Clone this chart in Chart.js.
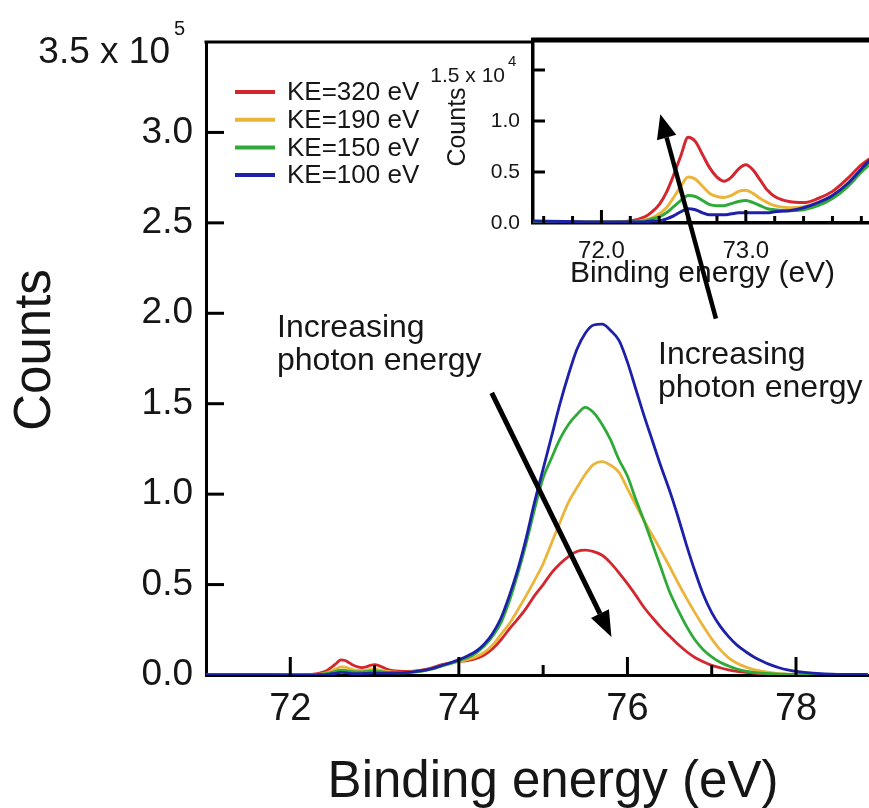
<!DOCTYPE html>
<html lang="en">
<head>
<meta charset="UTF-8">
<title>Counts vs binding energy</title>
<script src="https://cdn.jsdelivr.net/npm/chart.js"></script>
<style>
    body { margin: 0; background: #fff; }
    .wrap { position: relative; width: 869px; height: 808px; overflow: hidden; background: #fff; }
    #mainChart { position: absolute; left: 0; top: 0; }
    #insetChart { position: absolute; left: 400px; top: 0; }
    #arrows { position: absolute; left: 0; top: 0; pointer-events: none; }
</style>
</head>
<body>
<div class="wrap">
    <canvas id="mainChart" width="890" height="808"></canvas>
    <canvas id="insetChart" width="490" height="300"></canvas>
    <canvas id="arrows" width="869" height="808"></canvas>
</div>
<script>
// binding energy (eV)
const xs = [
    71.0, 71.5, 72.0, 72.2,
    72.3, 72.35, 72.4, 72.45, 72.5, 72.55, 72.6, 72.65, 72.7, 72.75, 72.8, 72.85, 72.9, 72.95, 73.0, 73.05, 73.1, 73.15, 73.2,
    73.3, 73.4, 73.5, 73.6, 73.7, 73.8, 73.9,
    74.0, 74.1, 74.2, 74.3, 74.4, 74.5, 74.6, 74.7, 74.8, 74.9,
    75.0, 75.1, 75.2, 75.3, 75.4, 75.5, 75.6, 75.7, 75.8, 75.9,
    76.0, 76.1, 76.2, 76.3, 76.4, 76.5, 76.6, 76.7, 76.8, 76.9,
    77.0, 77.1, 77.2, 77.3, 77.4, 77.5, 77.6, 77.7, 77.8, 77.9,
    78.0, 78.2, 78.5, 78.85
];

// counts, in units of 1e5
const ke320 = [
    0.001, 0.001, 0.001, 0.002,
    0.006, 0.011, 0.018, 0.030, 0.047, 0.066, 0.084, 0.080, 0.067, 0.054, 0.045, 0.041, 0.045, 0.053, 0.057, 0.052, 0.042, 0.032, 0.026,
    0.021, 0.020, 0.024, 0.031, 0.043, 0.057, 0.067,
    0.075, 0.080, 0.090, 0.110, 0.145, 0.195, 0.255, 0.310, 0.370, 0.440,
    0.500, 0.565, 0.615, 0.655, 0.683, 0.690, 0.682, 0.662, 0.620, 0.565,
    0.505, 0.440, 0.372, 0.315, 0.262, 0.215, 0.170, 0.130, 0.097, 0.073,
    0.053, 0.040, 0.028, 0.020, 0.014, 0.010, 0.007, 0.005, 0.004, 0.003,
    0.003, 0.002, 0.001, 0.001
];
const ke190 = [
    0.001, 0.001, 0.001, 0.001,
    0.003, 0.005, 0.009, 0.015, 0.025, 0.036, 0.045, 0.043, 0.036, 0.029, 0.026, 0.025, 0.027, 0.031, 0.032, 0.029, 0.024, 0.020, 0.017,
    0.015, 0.016, 0.020, 0.027, 0.038, 0.052, 0.064,
    0.075, 0.085, 0.100, 0.125, 0.165, 0.225, 0.285, 0.360, 0.440, 0.525,
    0.615, 0.730, 0.845, 0.955, 1.035, 1.110, 1.165, 1.180, 1.160, 1.120,
    1.030, 0.940, 0.850, 0.770, 0.685, 0.600, 0.510, 0.425, 0.345, 0.270,
    0.200, 0.140, 0.095, 0.065, 0.045, 0.030, 0.020, 0.013, 0.008, 0.005,
    0.004, 0.002, 0.001, 0.001
];
const ke150 = [
    0.001, 0.001, 0.001, 0.001,
    0.002, 0.004, 0.006, 0.010, 0.016, 0.022, 0.027, 0.026, 0.022, 0.018, 0.017, 0.017, 0.019, 0.021, 0.022, 0.020, 0.017, 0.014, 0.013,
    0.012, 0.013, 0.017, 0.024, 0.035, 0.050, 0.063,
    0.080, 0.095, 0.120, 0.160, 0.215, 0.290, 0.410, 0.560, 0.730, 0.920,
    1.090, 1.200, 1.305, 1.385, 1.440, 1.480, 1.450, 1.385, 1.300, 1.190,
    1.100, 0.970, 0.850, 0.720, 0.590, 0.460, 0.360, 0.270, 0.195, 0.140,
    0.100, 0.070, 0.050, 0.033, 0.022, 0.015, 0.010, 0.007, 0.005, 0.004,
    0.003, 0.002, 0.001, 0.001
];
const ke100 = [
    0.002, 0.002, 0.001, 0.001,
    0.001, 0.002, 0.002, 0.004, 0.007, 0.011, 0.014, 0.013, 0.010, 0.008, 0.008, 0.008, 0.009, 0.010, 0.010, 0.010, 0.010, 0.010, 0.011,
    0.012, 0.015, 0.020, 0.027, 0.038, 0.053, 0.068,
    0.085, 0.105, 0.130, 0.170, 0.230, 0.315, 0.440, 0.585, 0.760, 0.960,
    1.140, 1.320, 1.500, 1.660, 1.800, 1.890, 1.935, 1.940, 1.905, 1.850,
    1.730, 1.580, 1.430, 1.290, 1.150, 1.020, 0.875, 0.720, 0.575, 0.445,
    0.345, 0.270, 0.212, 0.165, 0.130, 0.100, 0.076, 0.056, 0.040, 0.028,
    0.020, 0.010, 0.004, 0.003
];

const seriesLabels = ['KE=320 eV', 'KE=190 eV', 'KE=150 eV', 'KE=100 eV'];
const seriesColors = ['#d3262e', '#ebb43a', '#2faa38', '#1d20a8'];

const mainXTicks = [72, 73, 74, 75, 76, 77, 78];
const mainYTicks = [0, 0.5, 1.0, 1.5, 2.0, 2.5, 3.0, 3.5];
const insetXTicks = [71.6, 71.8, 72.0, 72.2, 72.4, 72.6, 72.8, 73.0, 73.2, 73.4, 73.6, 73.8, 74.0];
const insetYTicks = [0, 0.05, 0.10, 0.15];

// annotation arrows, in main-chart data units
const arrowDown = { from: [74.39, 1.56], to: [75.81, 0.21] };
const arrowUp = { from: [77.05, 1.97], to: [76.39, 3.10] };

const FONT = '"Liberation Sans", Arial, Helvetica, sans-serif';
const INK = '#161616';
Chart.defaults.font.family = FONT;
Chart.defaults.color = INK;

function makeDatasets(lineWidth) {
    return [ke320, ke190, ke150, ke100].map((vals, i) => ({
        label: seriesLabels[i],
        data: xs.map((x, j) => ({ x: x, y: vals[j] })),
        borderColor: seriesColors[i],
        borderWidth: lineWidth,
        pointRadius: 0,
        fill: false,
        cubicInterpolationMode: 'monotone',
        order: 4 - i
    }));
}

function line(ctx, x0, y0, x1, y1, w) {
    ctx.lineWidth = w;
    ctx.beginPath();
    ctx.moveTo(x0, y0);
    ctx.lineTo(x1, y1);
    ctx.stroke();
}

function text(ctx, str, x, y, size, align, baseline) {
    ctx.font = size + 'px ' + FONT;
    ctx.textAlign = align || 'left';
    ctx.textBaseline = baseline || 'alphabetic';
    ctx.fillText(str, x, y);
}

function vtext(ctx, str, cx, cy, size) {
    ctx.save();
    ctx.translate(cx, cy);
    ctx.rotate(-Math.PI / 2);
    text(ctx, str, 0, 0, size, 'center', 'middle');
    ctx.restore();
}

// keep a fixed pixels-per-eV whatever width the layout leaves for the plot
function lockXScale(chart, pxPerEv) {
    const a = chart.chartArea;
    chart.options.scales.x.max = chart.options.scales.x.min + (a.right - a.left) / pxPerEv;
    chart.update('none');
}

// ---------- main chart ----------
const mainDecor = {
    id: 'mainDecor',
    afterDraw(chart) {
        const ctx = chart.ctx;
        const a = chart.chartArea;
        const sx = chart.scales.x, sy = chart.scales.y;
        ctx.save();
        ctx.strokeStyle = '#000';
        ctx.fillStyle = INK;
        ctx.lineCap = 'butt';

        // top frame
        line(ctx, a.left - 1.5, a.top, a.right, a.top, 3);

        // inward ticks
        sx.ticks.forEach(t => {
            const px = sx.getPixelForValue(t.value);
            const len = t.value % 2 === 0 ? 18 : 10;
            line(ctx, px, a.bottom, px, a.bottom - len, 3);
        });
        sy.ticks.forEach(t => {
            if (t.value === 0 || t.value === 3.5) return;
            const py = sy.getPixelForValue(t.value);
            line(ctx, a.left, py, a.left + 18, py, 3);
        });

        // top tick label with exponent
        text(ctx, '3.5 x 10', 170, 62.5, 37, 'right');
        text(ctx, '5', 174, 35, 20, 'left');

        // axis titles
        text(ctx, 'Binding energy (eV)', 553, 797, 51, 'center');
        vtext(ctx, 'Counts', 35.5, 350, 51);

        // legend
        chart.data.datasets.forEach((ds, i) => {
            const y = 92 + i * 27.7;
            ctx.strokeStyle = ds.borderColor;
            line(ctx, 235, y, 275, y, 4);
            ctx.fillStyle = INK;
            text(ctx, ds.label, 287, y + 1, 26, 'left', 'middle');
        });

        // annotations
        ctx.fillStyle = INK;
        text(ctx, 'Increasing', 277, 337, 32);
        text(ctx, 'photon energy', 277, 370, 32);
        text(ctx, 'Increasing', 658, 364, 32);
        text(ctx, 'photon energy', 658, 397, 32);
        ctx.restore();
    }
};

const mainChart = new Chart(document.getElementById('mainChart'), {
    type: 'line',
    data: { datasets: makeDatasets(2.8) },
    options: {
        responsive: false,
        animation: false,
        events: [],
        layout: { padding: { top: 42, left: 0, right: 0, bottom: 0 } },
        plugins: { legend: { display: false }, tooltip: { enabled: false } },
        scales: {
            x: {
                type: 'linear',
                min: 71.0,
                max: 79.1,
                grid: { display: false, drawTicks: false },
                border: { display: true, color: '#000', width: 3 },
                afterBuildTicks: s => { s.ticks = mainXTicks.map(v => ({ value: v })); },
                ticks: {
                    callback: v => (v % 2 === 0 ? String(v) : ''),
                    font: { size: 38 },
                    color: INK,
                    padding: 12,
                    autoSkip: false,
                    maxRotation: 0
                },
                afterFit: s => { s.height = 133; }
            },
            y: {
                type: 'linear',
                min: 0,
                max: 3.5,
                grid: { display: false, drawTicks: false },
                border: { display: true, color: '#000', width: 3 },
                afterBuildTicks: s => { s.ticks = mainYTicks.map(v => ({ value: v })); },
                ticks: {
                    callback: v => (v === 3.5 ? '' : v.toFixed(1)),
                    font: { size: 37 },
                    color: INK,
                    padding: 13,
                    autoSkip: false
                },
                afterFit: s => { s.width = 206; }
            }
        }
    },
    plugins: [mainDecor]
});
lockXScale(mainChart, 84.46);

// ---------- inset ----------
const insetDecor = {
    id: 'insetDecor',
    beforeDraw(chart) {
        const ctx = chart.ctx;
        const a = chart.chartArea;
        ctx.save();
        ctx.fillStyle = '#fff';
        ctx.fillRect(a.left, a.top, a.right - a.left, a.bottom - a.top);
        ctx.restore();
    },
    afterDraw(chart) {
        const ctx = chart.ctx;
        const a = chart.chartArea;
        const sx = chart.scales.x, sy = chart.scales.y;
        ctx.save();
        ctx.strokeStyle = '#000';
        ctx.fillStyle = INK;

        line(ctx, a.left - 1.75, a.top, a.right, a.top, 5);

        sx.ticks.forEach(t => {
            const px = sx.getPixelForValue(t.value);
            const major = Math.abs(t.value - 72) < 1e-6 || Math.abs(t.value - 73) < 1e-6;
            line(ctx, px, a.bottom, px, a.bottom - (major ? 13 : 7), 3);
        });
        sy.ticks.forEach(t => {
            if (t.value === 0) return;
            const py = sy.getPixelForValue(t.value);
            line(ctx, a.left, py, a.left + 12, py, 3);
        });

        text(ctx, '1.5 x 10', 105, 81.5, 21, 'right');
        text(ctx, '4', 108, 66, 15, 'left');

        text(ctx, 'Binding energy (eV)', 302.5, 282, 30, 'center');
        vtext(ctx, 'Counts', 58, 127, 25);
        ctx.restore();
    }
};

const insetChart = new Chart(document.getElementById('insetChart'), {
    type: 'line',
    data: { datasets: makeDatasets(3) },
    options: {
        responsive: false,
        animation: false,
        events: [],
        layout: { padding: { top: 40, left: 0, right: 0, bottom: 0 } },
        plugins: { legend: { display: false }, tooltip: { enabled: false } },
        scales: {
            x: {
                type: 'linear',
                min: 71.526,
                max: 73.98,
                grid: { display: false, drawTicks: false },
                border: { display: true, color: '#000', width: 3.5 },
                afterBuildTicks: s => { s.ticks = insetXTicks.filter(v => v <= s.max).map(v => ({ value: v })); },
                ticks: {
                    callback: v => (Math.abs(v - 72) < 1e-6 || Math.abs(v - 73) < 1e-6 ? v.toFixed(1) : ''),
                    font: { size: 24 },
                    color: INK,
                    padding: 14,
                    autoSkip: false,
                    maxRotation: 0
                },
                afterFit: s => { s.height = 77; }
            },
            y: {
                type: 'linear',
                min: 0,
                max: 0.1794,
                grid: { display: false, drawTicks: false },
                border: { display: true, color: '#000', width: 3.5 },
                afterBuildTicks: s => { s.ticks = insetYTicks.map(v => ({ value: v })); },
                ticks: {
                    callback: v => (v >= 0.15 ? '' : (v * 10).toFixed(1)),
                    font: { size: 21 },
                    color: INK,
                    padding: 13,
                    autoSkip: false
                },
                afterFit: s => { s.width = 133; }
            }
        }
    },
    plugins: [insetDecor]
});
lockXScale(insetChart, 145);

// ---------- arrows on top of both ----------
function drawArrow(ctx, p0, p1, lw, headLen, headHalf) {
    const ang = Math.atan2(p1[1] - p0[1], p1[0] - p0[0]);
    const bx = p1[0] - headLen * Math.cos(ang);
    const by = p1[1] - headLen * Math.sin(ang);
    ctx.lineWidth = lw;
    ctx.beginPath();
    ctx.moveTo(p0[0], p0[1]);
    ctx.lineTo(bx, by);
    ctx.stroke();
    ctx.beginPath();
    ctx.moveTo(p1[0], p1[1]);
    ctx.lineTo(bx + headHalf * Math.sin(ang), by - headHalf * Math.cos(ang));
    ctx.lineTo(bx - headHalf * Math.sin(ang), by + headHalf * Math.cos(ang));
    ctx.closePath();
    ctx.fill();
}

const actx = document.getElementById('arrows').getContext('2d');
const toPx = p => [mainChart.scales.x.getPixelForValue(p[0]), mainChart.scales.y.getPixelForValue(p[1])];
actx.strokeStyle = '#000';
actx.fillStyle = '#000';
drawArrow(actx, toPx(arrowDown.from), toPx(arrowDown.to), 5, 26, 10);
drawArrow(actx, toPx(arrowUp.from), toPx(arrowUp.to), 4.5, 24, 10);
</script>
</body>
</html>
